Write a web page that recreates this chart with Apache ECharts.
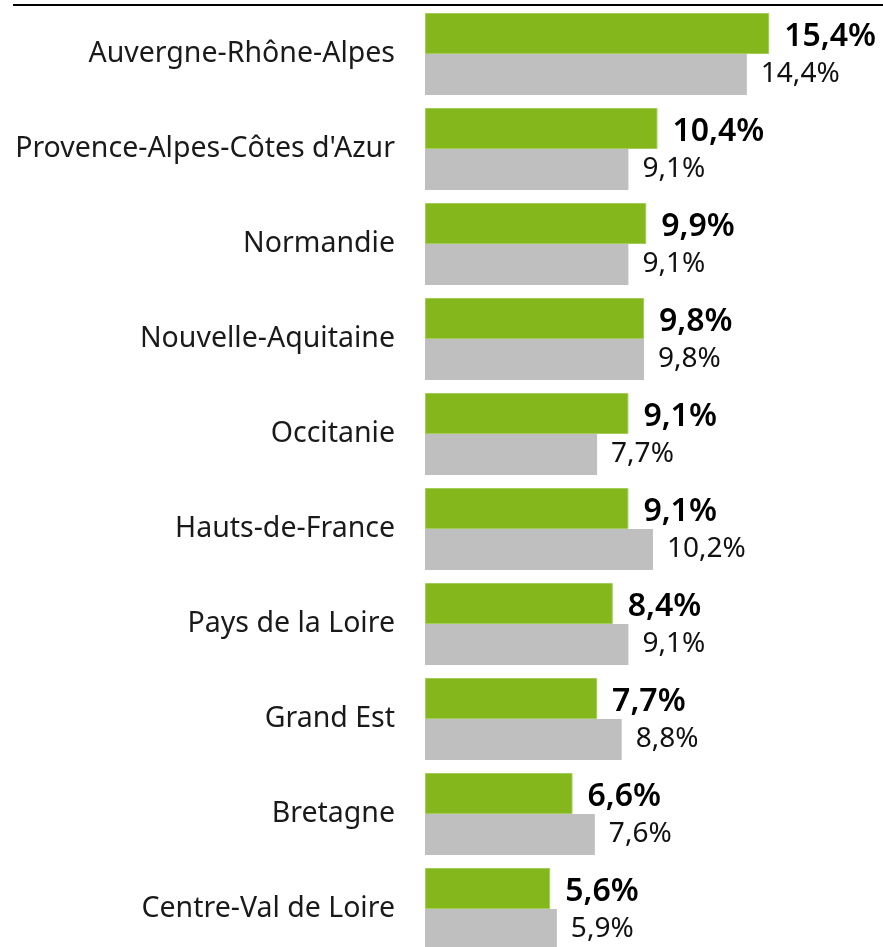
<!DOCTYPE html>
<html>
<head>
<meta charset="utf-8">
<script src="https://cdn.jsdelivr.net/npm/echarts@6/dist/echarts.min.js"></script>
<style>html,body{margin:0;padding:0;background:#fff;}#c{width:883px;height:947px;}</style>
</head>
<body>
<div id="c"></div>
<script>
const categories = ["Auvergne-Rhône-Alpes","Provence-Alpes-Côtes d'Azur","Normandie","Nouvelle-Aquitaine","Occitanie","Hauts-de-France","Pays de la Loire","Grand Est","Bretagne","Centre-Val de Loire"];
const greenValues = [15.4, 10.4, 9.9, 9.8, 9.1, 9.1, 8.4, 7.7, 6.6, 5.6];
const grayValues = [14.4, 9.1, 9.1, 9.8, 7.7, 10.2, 9.1, 8.8, 7.6, 5.9];

const fmt = p => p.value.toFixed(1).replace('.', ',') + '%';
const FONT = 'Noto Sans';
const chart = echarts.init(document.getElementById('c'), null, {renderer: 'canvas'});
chart.setOption({
  animation: false,
  backgroundColor: '#fff',
  grid: {left: 425, top: 6.5, width: 447, height: 950, containLabel: false, outerBoundsMode: 'none'},
  xAxis: {type: 'value', min: 0, max: 20, show: false},
  yAxis: {
    type: 'category', data: categories, inverse: true,
    axisLine: {show: false}, axisTick: {show: false},
    axisLabel: {margin: 30, fontSize: 28.5, color: '#1a1a1a', fontFamily: FONT}
  },
  graphic: [{type: 'line', shape: {x1: 13, y1: 5, x2: 883, y2: 5}, style: {stroke: '#000', lineWidth: 2}}],
  series: [
    {
      type: 'bar', data: greenValues, barWidth: 41, barGap: '0%',
      itemStyle: {color: '#84b71c', borderColor: '#a3cc5a', borderWidth: 1},
      label: {show: true, position: 'right', distance: 15, offset: [0, 3], formatter: fmt, fontSize: 32, fontWeight: 600, color: '#000', fontFamily: FONT}
    },
    {
      type: 'bar', data: grayValues, barWidth: 41,
      itemStyle: {color: '#bfbfbf'},
      label: {show: true, position: 'right', distance: 14, formatter: fmt, fontSize: 28, color: '#111', fontFamily: FONT}
    }
  ]
});
</script>
</body>
</html>
